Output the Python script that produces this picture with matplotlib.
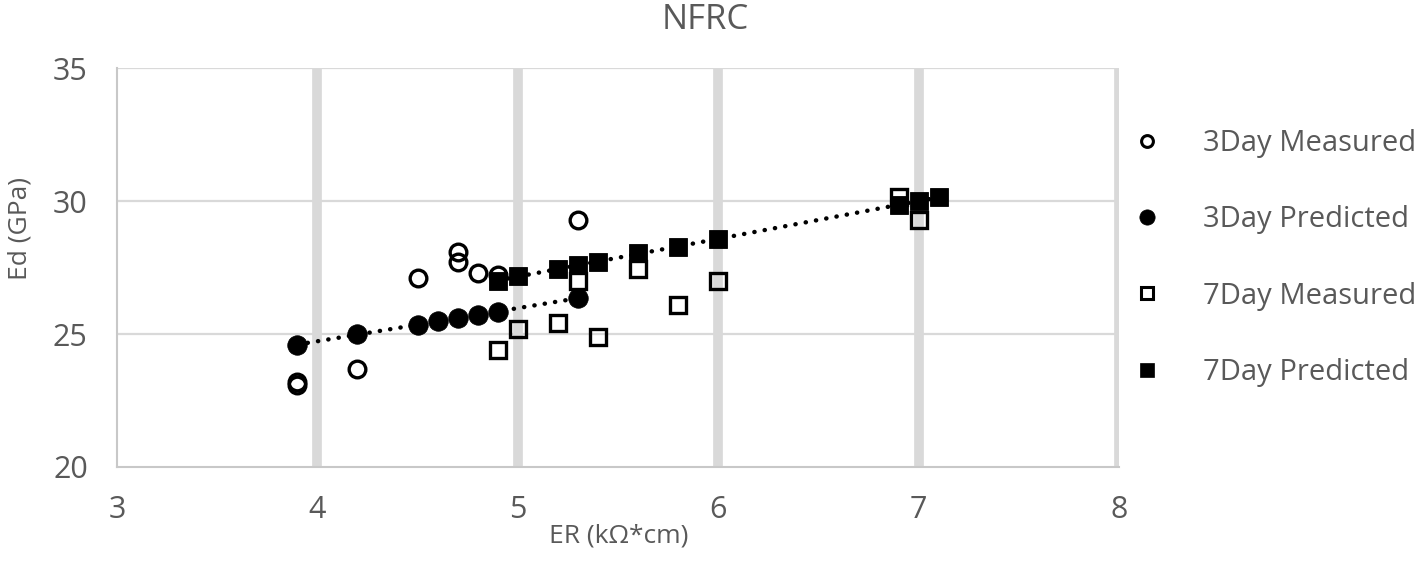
import matplotlib
matplotlib.use("Agg")
import matplotlib.pyplot as plt
from matplotlib.lines import Line2D
import numpy as np

# ---- data ----
er_3d_meas = [3.9, 3.9, 4.2, 4.5, 4.7, 4.7, 4.8, 4.9, 5.3]
ed_3d_meas = [23.2, 23.1, 23.7, 27.1, 28.1, 27.7, 27.3, 27.2, 29.3]

er_3d_pred = [3.9, 4.2, 4.5, 4.6, 4.7, 4.8, 4.9, 5.3]
ed_3d_pred = [24.6, 25.0, 25.35, 25.47, 25.6, 25.7, 25.83, 26.37]

er_7d_meas = [4.9, 5.0, 5.2, 5.3, 5.4, 5.6, 5.8, 6.0, 6.9, 7.0]
ed_7d_meas = [24.4, 25.2, 25.4, 27.0, 24.9, 27.45, 26.1, 27.0, 30.15, 29.3]

er_7d_pred = [4.9, 5.0, 5.2, 5.3, 5.4, 5.6, 5.8, 6.0, 6.9, 7.0, 7.1]
ed_7d_pred = [27.0, 27.18, 27.44, 27.59, 27.72, 28.03, 28.28, 28.56, 29.85, 30.0, 30.15]

series_labels = ["3Day Measured", "3Day Predicted", "7Day Measured", "7Day Predicted"]
title = "NFRC"
xlabel = "ER (kΩ*cm)"
ylabel = "Ed (GPa)"
xticks = [3, 4, 5, 6, 7, 8]
yticks = [20, 25, 30, 35]

# ---- style ----
plt.rcParams['font.family'] = ['Open Sans', 'DejaVu Sans']
txt = '#595959'
grid = '#d9d9d9'

W, H = 1419, 570
fig = plt.figure(figsize=(W / 100, H / 100), dpi=100)
L, R, T, B = 117, 1119, 68, 467
ax = fig.add_axes([L / W, 1 - B / H, (R - L) / W, (B - T) / H])

ax.set_xlim(3, 8)
ax.set_ylim(20, 35)
ax.set_xticks(xticks)
ax.set_yticks(yticks)
ax.tick_params(length=0, labelsize=22, labelcolor=txt)
ax.tick_params(axis='x', pad=20)
ax.tick_params(axis='y', pad=21)

for s in ['top', 'right']:
    ax.spines[s].set_visible(False)
for s in ['left', 'bottom']:
    ax.spines[s].set_color('#c8c8c8')
    ax.spines[s].set_linewidth(1.5)

# gridlines
for x in xticks[1:]:
    ax.axvline(x, color=grid, lw=7, zorder=0)
for y in yticks[1:]:
    ax.axhline(y, color=grid, lw=1.6, zorder=0)

# trendlines
def trend(xs, ys):
    p = np.polyfit(xs, ys, 1)
    xx = np.array([min(xs), max(xs)])
    ax.plot(xx, np.polyval(p, xx), color='black', lw=3.2, dashes=(0.05, 2.3),
            dash_capstyle='round', solid_capstyle='round', zorder=3)

mew = 2.4
h1, = ax.plot(er_3d_meas, ed_3d_meas, 'o', ms=12.0, mfc='none', mec='black', mew=mew, zorder=4)
h2, = ax.plot(er_3d_pred, ed_3d_pred, 'o', ms=14.0, mfc='black', mec='black', mew=0.6, zorder=4)
h3, = ax.plot(er_7d_meas, ed_7d_meas, 's', ms=11.5, mfc='none', mec='black', mew=mew, zorder=4)
h4, = ax.plot(er_7d_pred, ed_7d_pred, 's', ms=13.5, mfc='black', mec='black', mew=0.6, zorder=4)
trend(er_3d_pred, ed_3d_pred)
trend(er_7d_pred, ed_7d_pred)

# legend
hl = [Line2D([], [], ls='none', marker='o', ms=8.5, mfc='none', mec='black', mew=2.2),
      Line2D([], [], ls='none', marker='o', ms=11, mfc='black', mec='black', mew=0.5),
      Line2D([], [], ls='none', marker='s', ms=8.5, mfc='none', mec='black', mew=2.2),
      Line2D([], [], ls='none', marker='s', ms=10.5, mfc='black', mec='black', mew=0.5)]
leg = fig.legend(hl, series_labels, loc='center left',
                 bbox_to_anchor=(1132 / W, 1 - 258 / H), frameon=False,
                 fontsize=21, handlelength=1.0, handletextpad=1.42,
                 labelspacing=1.62, borderpad=0, borderaxespad=0)
for t in leg.get_texts():
    t.set_color(txt)

fig.text(705 / W, 1 - 20 / H, title, ha='center', va='center', fontsize=25, color=txt)
fig.text(619 / W, 1 - 536 / H, xlabel, ha='center', va='center', fontsize=19, color=txt)
fig.text(20 / W, 1 - 228 / H, ylabel, ha='center', va='center', rotation=90, fontsize=19, color=txt)

fig.savefig('out.png', dpi=100)
